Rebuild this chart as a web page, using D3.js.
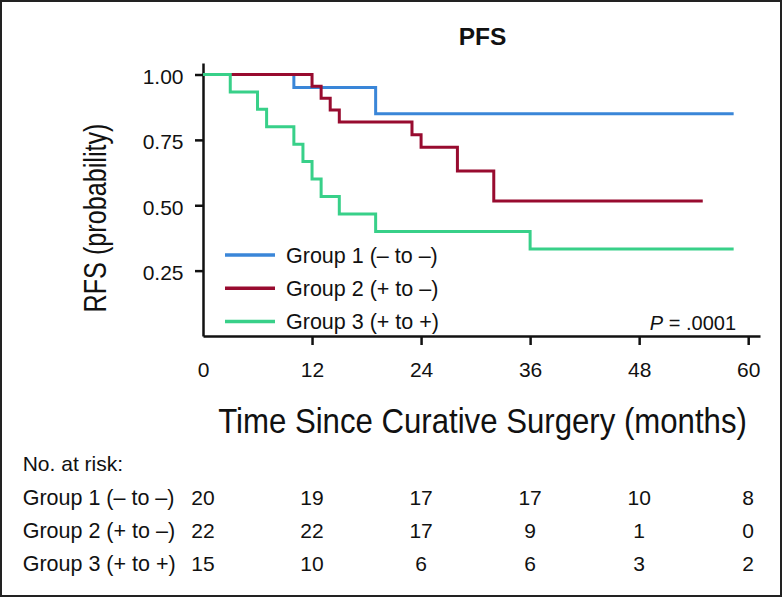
<!DOCTYPE html>
<html>
<head>
<meta charset="utf-8">
<script src="https://cdn.jsdelivr.net/npm/d3@7"></script>
<style>
    body { margin: 0; background: #fff; }
    text { font-family: "Liberation Sans", Arial, Helvetica, sans-serif; fill: #111; }
</style>
</head>
<body>
<div id="chart"></div>
<script>
// step points of the Kaplan-Meier curves (time in months, survival probability)
const groupNames = ['Group 1 (\u2013 to \u2013)', 'Group 2 (+ to \u2013)', 'Group 3 (+ to +)'];
const groupColors = ['#3a86d8', '#980b2f', '#38d089'];

const g1Times = [0, 10, 19, 58.4];
const g1Surv = [1, 0.95, 0.85, 0.85];
const g2Times = [0, 12, 13, 14, 15, 23, 24, 28, 32, 55];
const g2Surv = [1, 0.955, 0.909, 0.864, 0.818, 0.770, 0.722, 0.631, 0.516, 0.516];
const g3Times = [0, 3, 6, 7, 10, 11, 12, 13, 15, 19, 36, 58.4];
const g3Surv = [1, 0.933, 0.867, 0.8, 0.733, 0.667, 0.6, 0.533, 0.467, 0.4, 0.333, 0.333];

const xTicks = [0, 12, 24, 36, 48, 60];
const yTicks = [0.25, 0.5, 0.75, 1.0];

// number at risk at each x tick
const atRisk1 = [20, 19, 17, 17, 10, 8];
const atRisk2 = [22, 22, 17, 9, 1, 0];
const atRisk3 = [15, 10, 6, 6, 3, 2];

const pValue = '.0001';

const svgWidth = 784;
const svgHeight = 598;

const svg = d3.select('#chart')
    .append('svg')
    .attr('width', svgWidth)
    .attr('height', svgHeight);

// frame round the figure
svg.append('rect')
    .attr('x', 1).attr('y', 1)
    .attr('width', 780).attr('height', 595)
    .attr('fill', 'none')
    .attr('stroke', '#222')
    .attr('stroke-width', 2);

const x = d3.scaleLinear().domain([0, 61.3]).range([203, 760]);
const y = d3.scaleLinear().domain([0, 1.044]).range([336, 63]);

const groups = [
    {name: groupNames[0], color: groupColors[0], pts: g1Times.map((t, i) => [t, g1Surv[i]]), risk: atRisk1},
    {name: groupNames[1], color: groupColors[1], pts: g2Times.map((t, i) => [t, g2Surv[i]]), risk: atRisk2},
    {name: groupNames[2], color: groupColors[2], pts: g3Times.map((t, i) => [t, g3Surv[i]]), risk: atRisk3}
];

//axes
const xAxis = svg.append('g')
    .attr('transform', `translate(0,${y(0)})`)
    .call(d3.axisBottom(x).tickValues(xTicks).tickSize(9).tickSizeOuter(0).tickPadding(17));

const yAxis = svg.append('g')
    .attr('transform', `translate(${x(0)},0)`)
    .call(d3.axisLeft(y).tickValues(yTicks).tickSize(8).tickSizeOuter(0).tickPadding(11.5)
        .tickFormat(d3.format('.2f')));

[xAxis, yAxis].forEach(a => {
    a.select('.domain').attr('stroke', '#111').attr('stroke-width', 2.5);
    a.selectAll('.tick line').attr('stroke', '#111').attr('stroke-width', 2.5);
    a.selectAll('.tick text')
        .style('font-size', '21px')
        .style('font-family', '"Liberation Sans", Arial, sans-serif')
        .attr('fill', '#111');
});
xAxis.selectAll('.tick').filter(d => d === 0).select('line').remove();
yAxis.selectAll('.tick text').attr('dy', '0.43em');

//curves
const line = d3.line()
    .x(d => x(d[0]))
    .y(d => y(d[1]))
    .curve(d3.curveStepAfter);

svg.selectAll('path.km')
    .data(groups)
    .join('path')
    .attr('class', 'km')
    .attr('fill', 'none')
    .attr('stroke', d => d.color)
    .attr('stroke-width', 3)
    .attr('d', d => line(d.pts));

// green drawn last in the reference, so raise it
svg.selectAll('path.km').filter((d, i) => i === 2).raise();

//legend
const legend = svg.append('g');
groups.forEach((d, i) => {
    const ly = 255 + i * 33.3;
    legend.append('line')
        .attr('x1', 225).attr('x2', 275)
        .attr('y1', ly).attr('y2', ly)
        .attr('stroke', d.color)
        .attr('stroke-width', 3.5);
    legend.append('text')
        .attr('x', 286)
        .attr('y', ly + 7.7)
        .style('font-size', '21.5px')
        .text(d.name);
});

// p value
const pText = svg.append('text')
    .attr('x', 736)
    .attr('y', 330)
    .attr('text-anchor', 'end')
    .style('font-size', '20px');
pText.append('tspan').style('font-style', 'italic').text('P');
pText.append('tspan').text(' = ' + pValue);

//title
svg.append('text')
    .attr('x', 482.5)
    .attr('y', 45)
    .attr('text-anchor', 'middle')
    .style('font-size', '24.5px')
    .style('font-weight', 'bold')
    .text('PFS');

//axis titles (condensed face in the reference, so squeeze horizontally)
function condensed(parent, txt, size, width) {
    const t = parent.append('text')
        .attr('text-anchor', 'middle')
        .style('font-size', size + 'px')
        .text(txt);
    const k = width / t.node().getComputedTextLength();
    t.attr('transform', `scale(${k},1)`);
    return t;
}

const yTitle = svg.append('g').attr('transform', 'translate(106,218) rotate(-90)');
condensed(yTitle, 'RFS (probability)', 31, 189);

const xTitle = svg.append('g').attr('transform', 'translate(482.5,433)');
condensed(xTitle, 'Time Since Curative Surgery (months)', 35, 529);

//number at risk table
svg.append('text')
    .attr('x', 22.7)
    .attr('y', 471)
    .style('font-size', '21px')
    .text('No. at risk:');

groups.forEach((d, i) => {
    const ry = 505 + i * 32.9;
    svg.append('text')
        .attr('x', 22.7)
        .attr('y', ry)
        .style('font-size', '21.5px')
        .text(d.name);
    svg.selectAll(null)
        .data(d.risk)
        .join('text')
        .attr('x', (v, j) => x(xTicks[j]))
        .attr('y', ry)
        .attr('text-anchor', 'middle')
        .style('font-size', '21px')
        .text(v => v);
});
</script>
</body>
</html>
